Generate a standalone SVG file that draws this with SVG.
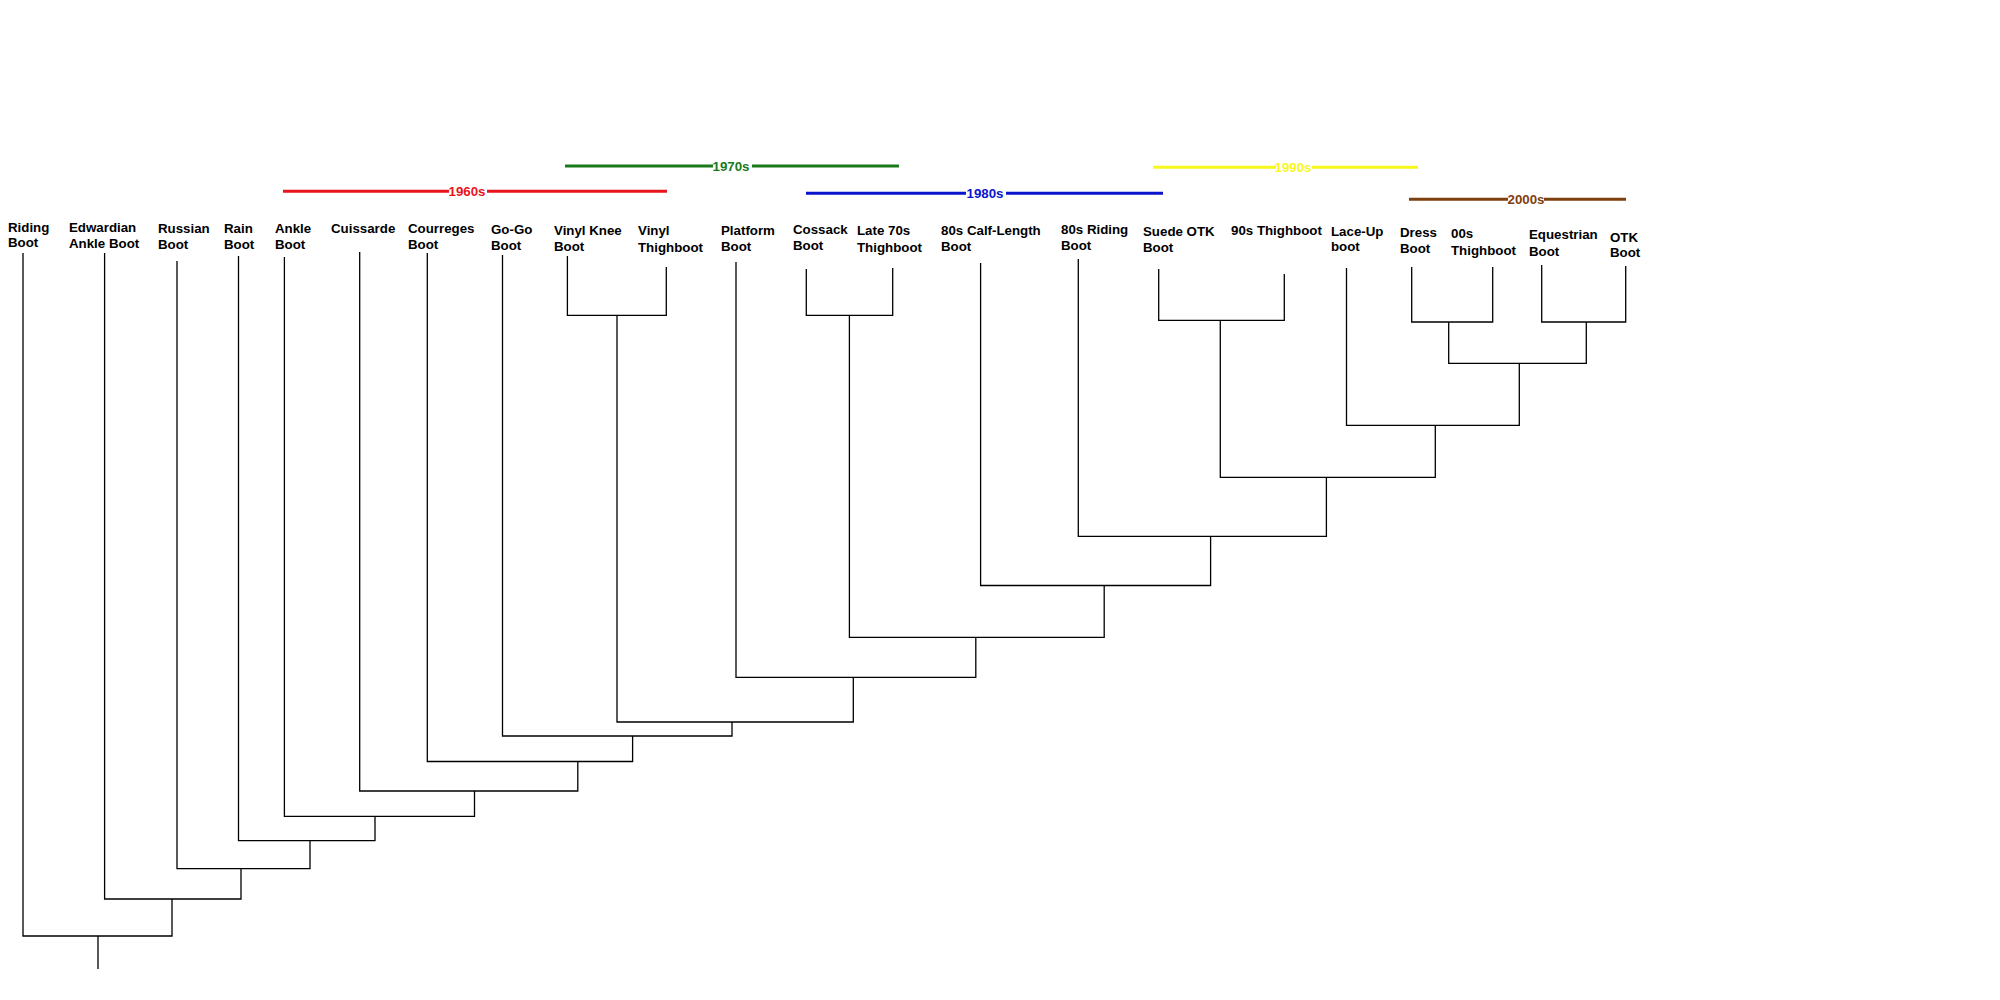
<svg xmlns="http://www.w3.org/2000/svg" width="2000" height="1000" viewBox="0 0 2000 1000">
<style>
text{font-family:"Liberation Sans",Arial,sans-serif;font-weight:bold;font-size:13.3px;fill:#000}
.lab{text-anchor:middle}
.c path{fill:none;stroke:#000;stroke-width:1.3}
.bar{stroke-width:3;fill:none}
</style>
<rect width="2000" height="1000" fill="#fff"/>
<g id="decades">
<g id="d1960"><path class="bar" stroke="#e8141c" d="M283 191.3H449M487 191.3H667"/><text class="lab" x="467" y="196" style="fill:#e8141c">1960s</text></g>
<g id="d1970"><path class="bar" stroke="#1a7a1a" d="M565 166H713M752 166H899"/><text class="lab" x="731" y="170.5" style="fill:#1a7a1a">1970s</text></g>
<g id="d1980"><path class="bar" stroke="#0a14cc" d="M806 193.3H966M1006 193.3H1163"/><text class="lab" x="985" y="198" style="fill:#0a14cc">1980s</text></g>
<g id="d1990"><path class="bar" stroke="#f7f71e" d="M1153 167.3H1276M1312 167.3H1418"/><text class="lab" x="1293" y="172" style="fill:#f7f71e">1990s</text></g>
<g id="d2000"><path class="bar" stroke="#7f4010" d="M1409 199.3H1508M1544 199.3H1626"/><text class="lab" x="1526" y="204" style="fill:#7f4010">2000s</text></g>
</g>
<g id="leaves">
<g id="riding"><text x="8" y="232">Riding</text><text x="8" y="247">Boot</text></g>
<g id="edwardian"><text x="69" y="232">Edwardian</text><text x="69" y="248">Ankle Boot</text></g>
<g id="russian"><text x="158" y="233">Russian</text><text x="158" y="249">Boot</text></g>
<g id="rain"><text x="224" y="233">Rain</text><text x="224" y="249">Boot</text></g>
<g id="ankle"><text x="275" y="233">Ankle</text><text x="275" y="249">Boot</text></g>
<g id="cuissarde"><text x="331" y="233">Cuissarde</text></g>
<g id="courreges"><text x="408" y="233">Courreges</text><text x="408" y="249">Boot</text></g>
<g id="gogo"><text x="491" y="234">Go-Go</text><text x="491" y="250">Boot</text></g>
<g id="vinylknee"><text x="554" y="235">Vinyl Knee</text><text x="554" y="251">Boot</text></g>
<g id="vinylthigh"><text x="638" y="235">Vinyl</text><text x="638" y="252">Thighboot</text></g>
<g id="platform"><text x="721" y="235">Platform</text><text x="721" y="251">Boot</text></g>
<g id="cossack"><text x="793" y="234">Cossack</text><text x="793" y="250">Boot</text></g>
<g id="late70s"><text x="857" y="235">Late 70s</text><text x="857" y="252">Thighboot</text></g>
<g id="calf80s"><text x="941" y="235">80s Calf-Length</text><text x="941" y="251">Boot</text></g>
<g id="riding80s"><text x="1061" y="234">80s Riding</text><text x="1061" y="250">Boot</text></g>
<g id="suedeotk"><text x="1143" y="236">Suede OTK</text><text x="1143" y="252">Boot</text></g>
<g id="thigh90s"><text x="1231" y="235">90s Thighboot</text></g>
<g id="laceup"><text x="1331" y="236">Lace-Up</text><text x="1331" y="251">boot</text></g>
<g id="dress"><text x="1400" y="237">Dress</text><text x="1400" y="253">Boot</text></g>
<g id="thigh00s"><text x="1451" y="238">00s</text><text x="1451" y="255">Thighboot</text></g>
<g id="equestrian"><text x="1529" y="239">Equestrian</text><text x="1529" y="256">Boot</text></g>
<g id="otk"><text x="1610" y="242">OTK</text><text x="1610" y="257">Boot</text></g>
</g>
<g id="connectors" class="c">
<path d="M98 969V936M23 253V936H172V899M104.6 253V899H241V868.6"/>
<path d="M177 261V868.6H310V840.6M238.5 256V840.6H375V816.3"/>
<path d="M284.4 257V816.3H474.5V791M359.7 252V791H577.8V761.5"/>
<path d="M427.3 253V761.5H632.6V736M502.5 255V736H732V722"/>
<path d="M567.4 256V315.3H666.3V267M617 315.3V722H853.3V677.3"/>
<path d="M736 262V677.3H975.8V637.3"/>
<path d="M806.3 269V315.3H892.7V268M849.4 315.3V637.3H1104.2V585.5"/>
<path d="M980.6 263V585.5H1210.6V536.3"/>
<path d="M1078.3 259V536.3H1326.4V477.3"/>
<path d="M1158.7 269V320.3H1284.3V274M1220.3 320.3V477.3H1435.3V425.3"/>
<path d="M1346.5 268V425.3H1519.3V363.3"/>
<path d="M1411.7 267V322H1492.7V267M1448.7 322V363.3H1586.3V322M1541.7 265V322H1625.7V266"/>
</g>
</svg>
